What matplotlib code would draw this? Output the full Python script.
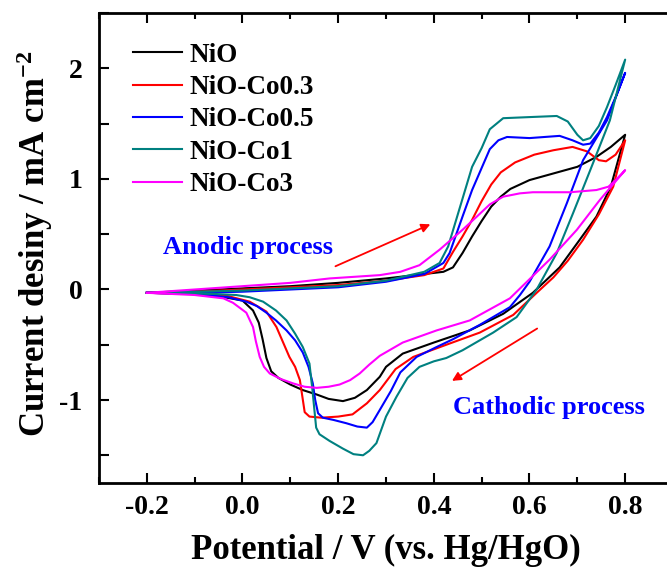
import numpy as np
import matplotlib
matplotlib.use('Agg')
import matplotlib.pyplot as plt

# ---- data (potential V, current mA cm-2) ----
labels = ['NiO', 'NiO-Co0.3', 'NiO-Co0.5', 'NiO-Co1', 'NiO-Co3']
colors = ['black', 'red', 'blue', '#008080', 'magenta']

# NiO
nio_fx = [-0.2, -0.1, 0.0, 0.1, 0.2, 0.3, 0.38, 0.42, 0.44, 0.46, 0.48, 0.50, 0.52, 0.54, 0.56, 0.60, 0.65, 0.70, 0.74, 0.77, 0.80]
nio_fy = [-0.03, -0.01, 0.01, 0.03, 0.06, 0.10, 0.14, 0.16, 0.20, 0.33, 0.48, 0.62, 0.75, 0.84, 0.91, 0.99, 1.05, 1.11, 1.20, 1.29, 1.40]
nio_rx = [0.80, 0.77, 0.74, 0.705, 0.663, 0.607, 0.545, 0.475, 0.40, 0.335, 0.30, 0.287, 0.26, 0.235, 0.21, 0.18, 0.155, 0.126, 0.10, 0.075, 0.06, 0.05, 0.042, 0.034, 0.022, 0.0, -0.05, -0.1, -0.2]
nio_ry = [1.40, 0.93, 0.66, 0.45, 0.20, -0.03, -0.22, -0.37, -0.48, -0.58, -0.70, -0.79, -0.91, -0.98, -1.01, -0.99, -0.95, -0.91, -0.86, -0.80, -0.74, -0.62, -0.45, -0.30, -0.19, -0.10, -0.06, -0.04, -0.03]

# NiO-Co0.3
co03_fx = [-0.2, -0.1, 0.0, 0.1, 0.2, 0.3, 0.38, 0.42, 0.44, 0.46, 0.48, 0.50, 0.52, 0.54, 0.57, 0.61, 0.65, 0.69, 0.72, 0.745, 0.76, 0.78, 0.80]
co03_fy = [-0.03, -0.02, 0.0, 0.02, 0.04, 0.08, 0.13, 0.19, 0.34, 0.48, 0.63, 0.80, 0.95, 1.06, 1.15, 1.22, 1.26, 1.29, 1.25, 1.17, 1.16, 1.22, 1.35]
co03_rx = [0.80, 0.775, 0.745, 0.712, 0.68, 0.65, 0.615, 0.566, 0.496, 0.426, 0.357, 0.32, 0.287, 0.26, 0.23, 0.20, 0.165, 0.14, 0.13, 0.12, 0.11, 0.098, 0.085, 0.071, 0.05, 0.015, -0.03, -0.1, -0.2]
co03_ry = [1.35, 0.93, 0.68, 0.45, 0.26, 0.11, -0.03, -0.23, -0.39, -0.50, -0.61, -0.72, -0.91, -1.03, -1.13, -1.15, -1.16, -1.15, -1.11, -0.82, -0.70, -0.61, -0.48, -0.34, -0.20, -0.11, -0.06, -0.04, -0.03]

# NiO-Co0.5
co05_fx = [-0.2, -0.1, 0.0, 0.1, 0.2, 0.3, 0.38, 0.42, 0.433, 0.46, 0.48, 0.50, 0.517, 0.535, 0.553, 0.60, 0.663, 0.69, 0.712, 0.727, 0.745, 0.762, 0.78, 0.80]
co05_fy = [-0.03, -0.03, -0.02, 0.0, 0.02, 0.07, 0.14, 0.24, 0.33, 0.66, 0.90, 1.10, 1.27, 1.35, 1.38, 1.37, 1.39, 1.35, 1.31, 1.32, 1.42, 1.56, 1.74, 1.96]
co05_rx = [0.80, 0.762, 0.712, 0.678, 0.642, 0.60, 0.58, 0.559, 0.496, 0.44, 0.406, 0.364, 0.33, 0.31, 0.287, 0.272, 0.26, 0.24, 0.217, 0.19, 0.168, 0.158, 0.152, 0.147, 0.138, 0.126, 0.11, 0.092, 0.07, 0.05, 0.03, 0.008, -0.03, -0.1, -0.2]
co05_ry = [1.96, 1.53, 1.17, 0.78, 0.39, 0.07, -0.05, -0.16, -0.32, -0.45, -0.52, -0.61, -0.75, -0.92, -1.09, -1.20, -1.25, -1.24, -1.21, -1.18, -1.16, -1.12, -1.00, -0.85, -0.70, -0.57, -0.46, -0.37, -0.28, -0.21, -0.15, -0.11, -0.07, -0.04, -0.03]

# NiO-Co1
co1_fx = [-0.2, -0.1, 0.0, 0.1, 0.2, 0.3, 0.38, 0.412, 0.43, 0.455, 0.48, 0.50, 0.517, 0.545, 0.60, 0.657, 0.68, 0.70, 0.712, 0.727, 0.745, 0.762, 0.78, 0.80]
co1_fy = [-0.03, -0.02, -0.01, 0.01, 0.03, 0.08, 0.16, 0.24, 0.39, 0.75, 1.11, 1.28, 1.45, 1.55, 1.56, 1.57, 1.52, 1.40, 1.35, 1.37, 1.48, 1.65, 1.85, 2.08]
co1_rx = [0.80, 0.768, 0.727, 0.691, 0.657, 0.615, 0.573, 0.524, 0.46, 0.426, 0.40, 0.37, 0.345, 0.322, 0.30, 0.28, 0.265, 0.252, 0.232, 0.21, 0.182, 0.161, 0.154, 0.151, 0.146, 0.14, 0.126, 0.11, 0.092, 0.07, 0.043, 0.015, -0.013, -0.06, -0.2]
co1_ry = [2.08, 1.53, 1.08, 0.69, 0.33, 0.0, -0.25, -0.39, -0.55, -0.62, -0.65, -0.70, -0.80, -0.97, -1.15, -1.39, -1.46, -1.50, -1.49, -1.44, -1.37, -1.31, -1.25, -1.12, -0.90, -0.67, -0.52, -0.40, -0.28, -0.19, -0.11, -0.07, -0.05, -0.04, -0.03]

# NiO-Co3
co3_fx = [-0.2, -0.1, 0.0, 0.1, 0.182, 0.287, 0.33, 0.37, 0.412, 0.46, 0.49, 0.517, 0.545, 0.58, 0.607, 0.685, 0.74, 0.765, 0.78, 0.80]
co3_fy = [-0.03, 0.0, 0.03, 0.06, 0.10, 0.13, 0.16, 0.22, 0.36, 0.54, 0.66, 0.77, 0.84, 0.87, 0.88, 0.88, 0.90, 0.93, 0.99, 1.08]
co3_rx = [0.80, 0.747, 0.699, 0.642, 0.559, 0.475, 0.406, 0.335, 0.287, 0.265, 0.245, 0.225, 0.203, 0.18, 0.155, 0.13, 0.106, 0.08, 0.057, 0.045, 0.036, 0.028, 0.022, 0.008, -0.02, -0.04, -0.1, -0.2]
co3_ry = [1.08, 0.81, 0.54, 0.27, -0.08, -0.28, -0.37, -0.48, -0.60, -0.68, -0.76, -0.82, -0.86, -0.88, -0.89, -0.88, -0.85, -0.81, -0.76, -0.70, -0.61, -0.47, -0.34, -0.21, -0.12, -0.08, -0.05, -0.03]

curves = [(nio_fx, nio_fy, nio_rx, nio_ry),
          (co03_fx, co03_fy, co03_rx, co03_ry),
          (co05_fx, co05_fy, co05_rx, co05_ry),
          (co1_fx, co1_fy, co1_rx, co1_ry),
          (co3_fx, co3_fy, co3_rx, co3_ry)]

xticks = [-0.2, 0.0, 0.2, 0.4, 0.6, 0.8]
yticks = [-1, 0, 1, 2]

plt.rcParams['font.family'] = 'Liberation Serif'
plt.rcParams['font.weight'] = 'bold'
plt.rcParams['mathtext.default'] = 'regular'
plt.rcParams['axes.unicode_minus'] = False

fig = plt.figure(figsize=(6.67, 5.76), dpi=100)
#axes runs past right edge like the original (cropped)
ax = fig.add_axes([99/667, 1-482.9/576, 574/667, 469.7/576])

for (fx, fy, rx, ry), lab, c in zip(curves, labels, colors):
    ax.plot(list(fx) + list(rx), list(fy) + list(ry), color=c, lw=1.5, label=lab)

ax.set_xlim(-0.3, 0.9)
ax.set_ylim(-1.75, 2.5)
ax.set_xticks(xticks)
ax.set_xticklabels(['%.1f' % v for v in xticks])
ax.set_xticks(np.arange(-0.3, 0.91, 0.1), minor=True)
ax.set_yticks(yticks)
ax.set_yticks([-1.5, -0.5, 0.5, 1.5, 2.5], minor=True)

ax.tick_params(axis='both', which='major', direction='in', labelsize=20, width=1.5, pad=9)
ax.tick_params(axis='x', which='major', length=7, top=True)
ax.tick_params(axis='x', which='minor', direction='in', length=4, width=1.5, top=True)
ax.tick_params(axis='y', which='major', length=7, pad=12)
ax.tick_params(axis='y', which='minor', direction='in', length=7, width=1.5)
for s in ax.spines.values():
    s.set_linewidth(2)

ax.set_xlabel('Potential / V (vs. Hg/HgO)', fontsize=25, fontweight='bold', labelpad=10)
ax.set_ylabel('Current desiny / mA cm$^{-2}$', fontsize=25, fontweight='bold')
ax.yaxis.set_label_coords(-0.077, 0.51)

ax.legend(loc='upper left', bbox_to_anchor=(0.059, 0.937), frameon=False, fontsize=19.5,
          handlelength=1.8, handletextpad=0.3, labelspacing=0.27, borderpad=0, borderaxespad=0)

# arrows and process labels
ax.annotate('', xy=(0.398, 0.60), xytext=(0.189, 0.20),
            arrowprops=dict(arrowstyle='-|>', color='red', lw=1.3, mutation_scale=13))
ax.annotate('', xy=(0.433, -0.84), xytext=(0.621, -0.34),
            arrowprops=dict(arrowstyle='-|>', color='red', lw=1.3, mutation_scale=13))
ax.text(0.011, 0.376, 'Anodic process', color='blue', fontsize=19, fontweight='bold',
        ha='center', va='center')
ax.text(0.64, -1.07, 'Cathodic process', color='blue', fontsize=19, fontweight='bold',
        ha='center', va='center')

fig.savefig('out.png', dpi=100)
